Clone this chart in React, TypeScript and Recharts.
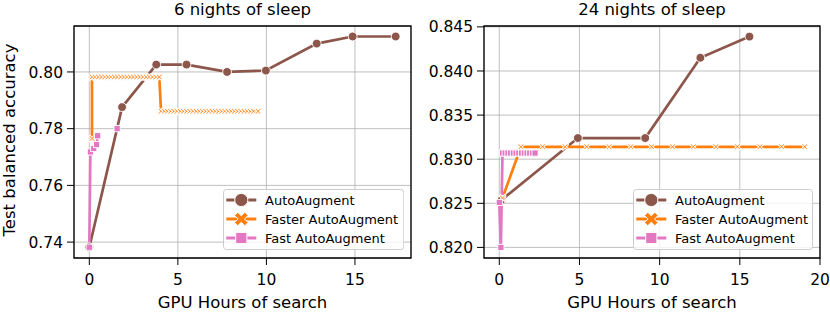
import React from 'react';
import { LineChart, Line, XAxis, YAxis, CartesianGrid, ReferenceArea } from 'recharts';

const FONT = '"DejaVu Sans", Verdana, sans-serif';
const BROWN = '#8c564b';
const ORANGE = '#ff7f0e';
const PINK = '#e377c2';

const seriesNames = ['AutoAugment', 'Faster AutoAugment', 'Fast AutoAugment'];
const seriesColors = [BROWN, ORANGE, PINK];
const seriesMarkers = ['circle', 'x', 'square'];
const panelTitles = ['6 nights of sleep', '24 nights of sleep'];
const xLabel = 'GPU Hours of search';
const yLabel = 'Test balanced accuracy';

const leftXTicks = [0, 5, 10, 15];
const leftYTicks = [0.74, 0.76, 0.78, 0.8];
const rightXTicks = [0, 5, 10, 15, 20];
const rightYTicks = [0.82, 0.825, 0.83, 0.835, 0.84, 0.845];

// ---- 6 nights ----
const autoLeftX = [0, 1.85, 3.78, 5.49, 7.78, 9.97, 12.84, 14.87, 17.3];
const autoLeftY = [0.7382, 0.7876, 0.8026, 0.8026, 0.8, 0.8005, 0.81, 0.8125, 0.8125];

const fasterLeftX = [
  0.15, 0.15, 0.33, 0.51, 0.69, 0.87, 1.05, 1.23, 1.41, 1.59, 1.77, 1.95, 2.13, 2.31, 2.49, 2.67,
  2.85, 3.03, 3.21, 3.39, 3.57, 3.75, 3.95,
  4.05, 4.23, 4.41, 4.59, 4.77, 4.95, 5.13, 5.31, 5.49, 5.67, 5.85, 6.03, 6.21, 6.39, 6.57, 6.75,
  6.93, 7.11, 7.29, 7.47, 7.65, 7.83, 8.01, 8.19, 8.37, 8.55, 8.73, 8.91, 9.09, 9.27, 9.53,
];
const fasterLeftY = [
  0.7765, 0.7982, 0.7982, 0.7982, 0.7982, 0.7982, 0.7982, 0.7982, 0.7982, 0.7982, 0.7982, 0.7982,
  0.7982, 0.7982, 0.7982, 0.7982, 0.7982, 0.7982, 0.7982, 0.7982, 0.7982, 0.7982, 0.7982,
  0.7861, 0.7861, 0.7861, 0.7861, 0.7861, 0.7861, 0.7861, 0.7861, 0.7861, 0.7861, 0.7861, 0.7861,
  0.7861, 0.7861, 0.7861, 0.7861, 0.7861, 0.7861, 0.7861, 0.7861, 0.7861, 0.7861, 0.7861, 0.7861,
  0.7861, 0.7861, 0.7861, 0.7861, 0.7861, 0.7861, 0.7861,
];

const fastLeftX = [0, 0.06, 0.25, 0.41, 0.47, 1.0, 1.57];
const fastLeftY = [0.7382, 0.7718, 0.773, 0.7744, 0.7775, null, 0.78];

// ---- 24 nights ----
const autoRightX = [0.15, 4.9, 9.1, 12.54, 15.6];
const autoRightY = [0.8254, 0.8324, 0.8324, 0.8415, 0.8439];

const fasterRightX = [0.2, 1.35, 2.7, 4.1, 5.45, 6.85, 8.2, 9.5, 10.8, 12.1, 13.5, 14.85, 16.25, 17.6, 19.05];
const fasterRightY = [0.8256, 0.8314, 0.8314, 0.8314, 0.8314, 0.8314, 0.8314, 0.8314, 0.8314, 0.8314, 0.8314, 0.8314, 0.8314, 0.8314, 0.8314];

const fastRightX = [0, 0.1, 0.2, 0.37, 0.54, 0.71, 0.88, 1.05, 1.22, 1.39, 1.56, 1.73, 1.9, 2.07, 2.23];
const fastRightY = [0.8251, 0.82, 0.8307, 0.8307, 0.8307, 0.8307, 0.8307, 0.8307, 0.8307, 0.8307, 0.8307, 0.8307, 0.8307, 0.8307, 0.8307];

const zip = (xs: number[], ys: (number | null)[]) => xs.map((x, i) => ({ x, y: ys[i] }));

const xPoints = (cx: number, cy: number, s: number, t: number) => {
  const base = [
    [t, s], [t, t], [s, t], [s, -t], [t, -t], [t, -s],
    [-t, -s], [-t, -t], [-s, -t], [-s, t], [-t, t], [-t, s],
  ];
  const r = Math.SQRT1_2;
  return base.map(([x, y]) => `${cx + (x - y) * r},${cy + (x + y) * r}`).join(' ');
};

const makeDot = (kind: string) => (props: any) => {
  const { cx, cy, index } = props;
  if (cx == null || cy == null || props.value == null || Number.isNaN(cy)) return <g key={`d${index}`} />;
  if (kind === 'circle')
    return <circle key={`d${index}`} cx={cx} cy={cy} r={4.4} fill={BROWN} stroke="#fff" strokeWidth={0.9} />;
  if (kind === 'x')
    return <polygon key={`d${index}`} points={xPoints(cx, cy, 3.9, 0.9)} fill={ORANGE} stroke="#fff" strokeWidth={1.1} />;
  return <rect key={`d${index}`} x={cx - 3.1} y={cy - 3.1} width={6.2} height={6.2} fill={PINK} stroke="#fff" strokeWidth={0.9} />;
};

const XTick = (props: any) => {
  const { x, y, payload } = props;
  return (
    <text x={x} y={y} dy="0.71em" textAnchor="middle" fontFamily={FONT} fontSize={15.5} fill="#000">
      {payload.value}
    </text>
  );
};

const makeYTick = (dec: number) => (props: any) => {
  const { x, y, payload } = props;
  return (
    <text x={x} y={y} dy="0.36em" textAnchor="end" fontFamily={FONT} fontSize={15.5} fill="#000">
      {Number(payload.value).toFixed(dec)}
    </text>
  );
};

type PanelProps = {
  width: number;
  margin: { top: number; right: number; bottom: number; left: number };
  xDomain: [number, number];
  yDomain: [number, number];
  xTicks: number[];
  yTicks: number[];
  dec: number;
  series: { x: number; y: number | null }[][];
};

const Panel = ({ width, margin, xDomain, yDomain, xTicks, yTicks, dec, series }: PanelProps) => (
  <LineChart width={width} height={313} margin={margin}>
    <CartesianGrid stroke="#b0b0b0" strokeWidth={0.8} />
    <XAxis
      type="number"
      dataKey="x"
      domain={xDomain}
      ticks={xTicks}
      interval={0}
      allowDataOverflow
      axisLine={false}
      tickLine={{ stroke: '#000', strokeWidth: 1 }}
      tickSize={7}
      tickMargin={9}
      height={40}
      tick={<XTick />}
    />
    <YAxis
      type="number"
      domain={yDomain}
      ticks={yTicks}
      interval={0}
      allowDataOverflow
      axisLine={false}
      tickLine={{ stroke: '#000', strokeWidth: 1 }}
      tickSize={7}
      tickMargin={4}
      width={60}
      tick={makeYTick(dec)}
    />
    {series.map((d, i) => (
      <Line
        key={seriesNames[i]}
        data={d}
        dataKey="y"
        stroke={seriesColors[i]}
        strokeWidth={2.7}
        dot={makeDot(seriesMarkers[i])}
        activeDot={false}
        isAnimationActive={false}
        connectNulls={false}
      />
    ))}
    <ReferenceArea
      x1={xDomain[0]}
      x2={xDomain[1]}
      y1={yDomain[0]}
      y2={yDomain[1]}
      fill="none"
      fillOpacity={0}
      stroke="#000"
      strokeWidth={1.3}
      ifOverflow="visible"
    />
  </LineChart>
);

const LegendMarker = ({ kind, cx, cy }: { kind: string; cx: number; cy: number }) => {
  if (kind === 'circle') return <circle cx={cx} cy={cy} r={6.6} fill={BROWN} stroke="#fff" strokeWidth={1} />;
  if (kind === 'x') return <polygon points={xPoints(cx, cy, 7.3, 2.3)} fill={ORANGE} stroke="#fff" strokeWidth={1} />;
  return <rect x={cx - 5.6} y={cy - 5.6} width={11.2} height={11.2} fill={PINK} stroke="#fff" strokeWidth={1} />;
};

const LegendBox = ({ left, top, width }: { left: number; top: number; width: number }) => {
  const h = 61;
  const rows = [11, 30, 49];
  return (
    <svg style={{ position: 'absolute', left, top }} width={width} height={h}>
      <rect x={0.5} y={0.5} width={width - 1} height={h - 1} rx={3} fill="#fff" fillOpacity={0.8} stroke="#cccccc" strokeWidth={1} />
      {seriesNames.map((name, i) => (
        <g key={name}>
          <line x1={3.3} x2={33.3} y1={rows[i]} y2={rows[i]} stroke={seriesColors[i]} strokeWidth={3} />
          <LegendMarker kind={seriesMarkers[i]} cx={18.3} cy={rows[i]} />
          <text x={42} y={rows[i] + 4.7} fontFamily={FONT} fontSize={13} fill="#000">
            {name}
          </text>
        </g>
      ))}
    </svg>
  );
};

export default function App() {
  const leftSeries = [zip(autoLeftX, autoLeftY), zip(fasterLeftX, fasterLeftY), zip(fastLeftX, fastLeftY)];
  const rightSeries = [zip(autoRightX, autoRightY), zip(fasterRightX, fasterRightY), zip(fastRightX, fastRightY)];
  return (
    <div style={{ position: 'absolute', left: 0, top: 0, width: 830, height: 313, background: '#fff', overflow: 'hidden' }}>
      <div style={{ position: 'absolute', left: 0, top: 0 }}>
        <Panel
          width={420}
          margin={{ top: 26, right: 9, bottom: 15, left: 14 }}
          xDomain={[-0.865, 18.165]}
          yDomain={[0.7344, 0.8162]}
          xTicks={leftXTicks}
          yTicks={leftYTicks}
          dec={2}
          series={leftSeries}
        />
      </div>
      <div style={{ position: 'absolute', left: 420, top: 0 }}>
        <Panel
          width={410}
          margin={{ top: 26, right: 10, bottom: 15, left: 4 }}
          xDomain={[-0.953, 20.0]}
          yDomain={[0.8188, 0.8451]}
          xTicks={rightXTicks}
          yTicks={rightYTicks}
          dec={3}
          series={rightSeries}
        />
      </div>
      <LegendBox left={222.7} top={189.3} width={181.3} />
      <LegendBox left={633.3} top={189.3} width={180} />
      <svg style={{ position: 'absolute', left: 0, top: 0, pointerEvents: 'none' }} width={830} height={313}>
        <text x={242.5} y={15} textAnchor="middle" fontFamily={FONT} fontSize={16.5} fill="#000">
          {panelTitles[0]}
        </text>
        <text x={652} y={15} textAnchor="middle" fontFamily={FONT} fontSize={16.5} fill="#000">
          {panelTitles[1]}
        </text>
        <text x={242.5} y={308} textAnchor="middle" fontFamily={FONT} fontSize={16.5} fill="#000">
          {xLabel}
        </text>
        <text x={652} y={308} textAnchor="middle" fontFamily={FONT} fontSize={16.5} fill="#000">
          {xLabel}
        </text>
        <text
          x={0}
          y={0}
          transform="translate(15,140) rotate(-90)"
          textAnchor="middle"
          fontFamily={FONT}
          fontSize={16.5}
          fill="#000"
        >
          {yLabel}
        </text>
      </svg>
    </div>
  );
}
